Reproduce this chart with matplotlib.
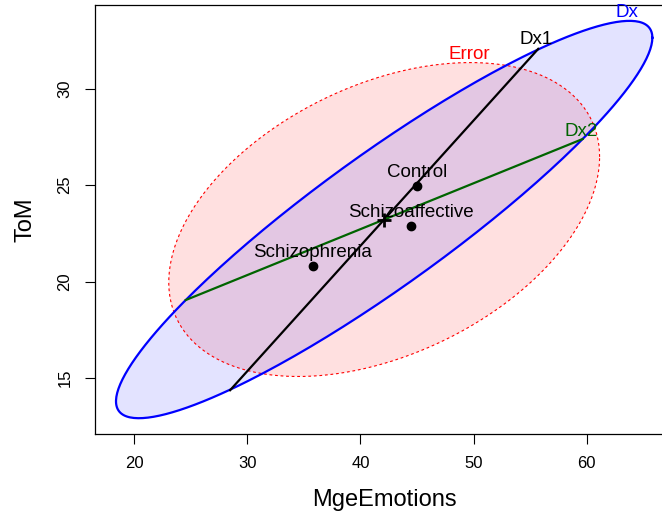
import matplotlib.pyplot as plt
import numpy as np

plt.rcParams['font.family'] = ['Liberation Sans', 'DejaVu Sans']

# grand mean and ellipse matrices
grand_mean = [42.1, 23.22]
error_mat = [[362.1, 61.8], [61.8, 66.1]]
dx_mat = [[561.2, 223.0], [223.0, 105.9]]

# 1-df contrasts drawn as lines (half vectors from the grand mean)
dx1_vec = [13.61, 8.84]
dx2_vec = [17.53, 4.17]

groups = ["Control", "Schizoaffective", "Schizophrenia"]
group_x = [44.97, 44.47, 35.79]
group_y = [24.95, 22.87, 20.79]

xticks = [20, 30, 40, 50, 60]
yticks = [15, 20, 25, 30]


def ellipse_points(center, mat, n=300):
    t = np.linspace(0, 2 * np.pi, n)
    L = np.linalg.cholesky(np.array(mat))
    pts = (L @ np.vstack([np.cos(t), np.sin(t)])).T
    return pts + np.array(center)


fig = plt.figure(figsize=(6.62, 5.14), dpi=100)
ax = fig.add_axes([0.1429, 0.1556, 0.8752, 0.8346])

c = np.array(grand_mean)
err = ellipse_points(c, error_mat)
dx = ellipse_points(c, dx_mat)

ax.fill(err[:, 0], err[:, 1], color='red', alpha=0.12, lw=0)
ax.fill(dx[:, 0], dx[:, 1], color='blue', alpha=0.11, lw=0)
ax.plot(err[:, 0], err[:, 1], color='red', lw=0.8, dashes=(2.5, 2.5))
ax.plot(dx[:, 0], dx[:, 1], color='blue', lw=1.6)

for vec, col in [(dx1_vec, 'black'), (dx2_vec, 'darkgreen')]:
    v = np.array(vec)
    ax.plot([c[0] - v[0], c[0] + v[0]], [c[1] - v[1], c[1] + v[1]], color=col, lw=1.6)

# ellipse labels, placed just above the top point of each ellipse / line end
err_top = err[np.argmax(err[:, 1])]
dx_top = dx[np.argmax(dx[:, 1])]
lab_kw = dict(textcoords='offset points', ha='center', va='bottom', fontsize=13.5)
ax.annotate("Error", err_top, xytext=(-1.5, -0.5), color='red', **lab_kw)
ax.annotate("Dx", dx_top, xytext=(-1.5, 0), color='blue', **lab_kw)
ax.annotate("Dx1", c + np.array(dx1_vec), xytext=(-1.5, 0.5), color='black', **lab_kw)
ax.annotate("Dx2", c + np.array(dx2_vec), xytext=(-1, -0.5), color='darkgreen', **lab_kw)

# grand mean and group means
ax.plot(c[0], c[1], marker='+', color='black', ms=10, mew=2)
ax.plot(group_x, group_y, 'o', color='black', ms=6)
for g, x, y in zip(groups, group_x, group_y):
    ax.annotate(g, (x, y), xytext=(0, 4), **lab_kw)

ax.set_xlim(16.52, 67.7)
ax.set_ylim(12.11, 34.33)
ax.set_xticks(xticks)
ax.set_yticks(yticks)
ax.tick_params(length=7, width=0.8, labelsize=12, pad=9)
ax.tick_params(axis='y', labelrotation=90)
for lab in ax.get_yticklabels():
    lab.set_va('center')
for s in ax.spines.values():
    s.set_linewidth(0.9)

ax.set_xlabel("MgeEmotions", fontsize=17, va='center')
ax.set_ylabel("ToM", fontsize=17, va='center')
ax.xaxis.set_label_coords(0.5, -0.1538)
ax.yaxis.set_label_coords(-0.1201, 0.5)

fig.savefig("out.png", dpi=100)
